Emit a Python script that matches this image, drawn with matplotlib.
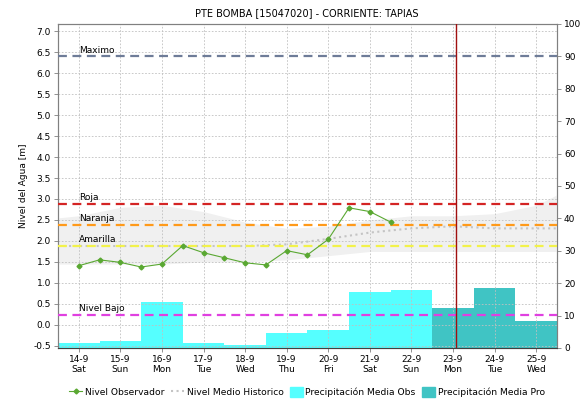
import numpy as np
import matplotlib.pyplot as plt
from matplotlib.patches import Patch
from matplotlib.lines import Line2D

days = ["14-9\nSat", "15-9\nSun", "16-9\nMon", "17-9\nTue", "18-9\nWed", "19-9\nThu",
        "20-9\nFri", "21-9\nSat", "22-9\nSun", "23-9\nMon", "24-9\nTue", "25-9\nWed"]

# observed level, every 12 h from 14-9 00h
obs_t = [0, 0.5, 1, 1.5, 2, 2.5, 3, 3.5, 4, 4.5, 5, 5.5, 6, 6.5, 7, 7.5]
obs_lvl = [1.41, 1.55, 1.49, 1.38, 1.45, 1.89, 1.72, 1.60, 1.48, 1.43, 1.77, 1.67,
           2.04, 2.79, 2.70, 2.45]

# historic band and median
hist_t = [-0.5, 0, 1, 2, 3, 4, 5, 6, 7, 8, 9, 10, 11, 11.5]
hist_hi = [2.55, 2.6, 2.8, 2.85, 2.7, 2.45, 2.3, 2.35, 2.5, 2.6, 2.6, 2.65, 2.85, 3.1]
hist_lo = [1.45, 1.45, 1.45, 1.45, 1.5, 1.5, 1.55, 1.65, 1.75, 1.75, 1.75, 1.75, 1.75, 1.75]
hist_med = [1.88, 1.88, 1.88, 1.88, 1.88, 1.88, 1.92, 2.05, 2.2, 2.3, 2.35, 2.3, 2.3, 2.3]

# daily precipitation (mm)
prec_obs = [1.6, 2.2, 14.1, 1.6, 0.9, 4.7, 5.5, 17.3, 17.8]
prec_pro = [12.4, 18.5, 8.4]

thresholds = [("Maximo", 6.40, "#6e7c98"), ("Roja", 2.88, "#d42424"),
              ("Naranja", 2.38, "#ff9a1a"), ("Amarilla", 1.89, "#f2f24a"),
              ("Nivel Bajo", 0.24, "#e040e0")]
now = 9.07

plt.rcParams['font.family'] = 'DejaVu Sans'
plt.rcParams['font.size'] = 6.5

fig = plt.figure(figsize=(5.85, 4.03), dpi=100)
ax = fig.add_axes([0.0991, 0.1365, 0.853, 0.804])
ax2 = ax.twinx()
ax.set_zorder(ax2.get_zorder() + 1)
ax.patch.set_visible(False)

# bars on right axis
x_obs = np.arange(len(prec_obs))
x_pro = np.arange(len(prec_obs), len(prec_obs) + len(prec_pro))
ax2.bar(x_obs, prec_obs, width=1.0, color="#55ffff", edgecolor="none")
ax2.bar(x_pro, prec_pro, width=1.0, color="#40c4c4", edgecolor="none")
ax2.set_ylim(0, 100)
ax2.set_yticks(np.arange(0, 101, 10))

ax.fill_between(hist_t, hist_lo, hist_hi, color="#f0f0f0", lw=0, zorder=0.3)
ax.plot(hist_t, hist_med, ":", color="#c4c4c4", lw=1.5, zorder=2)

for name, val, col in thresholds:
    ax.axhline(val, color=col, ls=(0, (4, 2.5)), lw=1.6, zorder=3)
    ax.text(0, val + 0.04, name, fontsize=6.5, ha="left", va="bottom", zorder=4)

ax.plot(obs_t, obs_lvl, "-", color="#5aa832", lw=0.8, marker="D", markersize=2.5, zorder=5)
ax.axvline(now, color="#a01010", lw=1.0, zorder=6)

ax.set_xlim(-0.5, 11.5)
ax.set_ylim(-0.55, 7.17)
ax.set_yticks(np.arange(-0.5, 7.01, 0.5))
ax.set_yticklabels(["%.1f" % v for v in np.arange(-0.5, 7.01, 0.5)])
ax.set_xticks(range(len(days)))
ax.set_xticklabels(days)
ax.set_ylabel("Nivel del Agua [m]", fontsize=6.5)
ax.grid(True, color="#c0c0c0", ls=(0, (2, 2)), lw=0.6, zorder=0.5)
ax.set_axisbelow(True)

for a in (ax, ax2):
    for s in a.spines.values():
        s.set_color("#808080")
    a.tick_params(length=3, width=0.6, color="#808080", labelsize=6.5, pad=2)
ax.spines["bottom"].set_color("#404040")
ax.spines["bottom"].set_linestyle((0, (1, 1)))

fig.text(0.525, 0.967, "PTE BOMBA [15047020] - CORRIENTE: TAPIAS", ha="center", va="center", fontsize=7)

handles = [Line2D([], [], color="#5aa832", marker="D", markersize=2.5, lw=0.8),
           Line2D([], [], color="#c4c4c4", ls=":", lw=1.5),
           Patch(color="#55ffff"), Patch(color="#40c4c4")]
labels = ["Nivel Observador", "Nivel Medio Historico", "Precipitación Media Obs", "Precipitación Media Pro"]
fig.legend(handles, labels, loc="center", bbox_to_anchor=(0.525, 0.027), ncol=4, frameon=False,
           fontsize=6.6, handlelength=1.4, handletextpad=0.3, columnspacing=0.7, handleheight=1.2)

fig.savefig("out.png", dpi=100)
